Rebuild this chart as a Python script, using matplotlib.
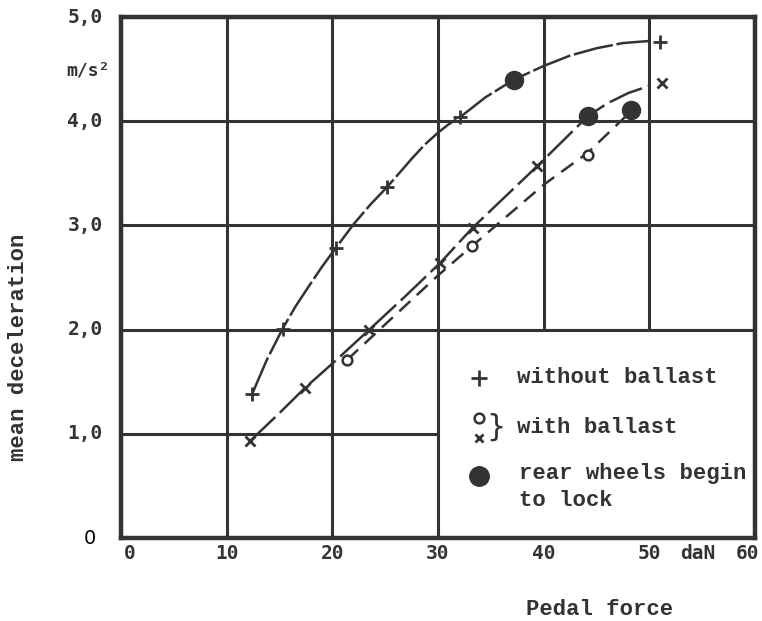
import matplotlib.pyplot as plt
from matplotlib.patches import Rectangle

INK = '#333333'

# measured points
plus_x = [12.4, 15.3, 20.3, 25.2, 32.1, 51.0]
plus_y = [1.38, 2.01, 2.78, 3.37, 4.04, 4.76]
cross_x = [12.2, 17.4, 23.5, 30.2, 33.3, 39.4, 51.2]
cross_y = [0.93, 1.44, 2.00, 2.64, 2.98, 3.57, 4.37]
circ_x = [21.4, 33.2, 44.2]
circ_y = [1.71, 2.80, 3.68]
lock_x = [37.2, 44.2, 48.3]
lock_y = [4.40, 4.05, 4.11]

# drawn curves
curve_plus_x = [12.4, 13.8, 15.3, 16.5, 17.8, 19.0, 20.3, 22.0, 23.6, 25.2, 26.4, 27.6, 28.8, 30.0,
                31.0, 32.1, 34.5, 37.2, 40.0, 42.5, 45.0, 47.5, 50.0]
curve_plus_y = [1.38, 1.71, 2.01, 2.22, 2.42, 2.60, 2.78, 3.01, 3.20, 3.37, 3.51, 3.65, 3.78, 3.89,
                3.97, 4.04, 4.23, 4.40, 4.53, 4.63, 4.70, 4.75, 4.77]
curve_cross_x = [12.2, 14.8, 17.4, 20.4, 23.5, 26.8, 30.2, 33.3, 36.4, 39.4, 42.0, 44.2, 46.0, 48.0, 50.0]
curve_cross_y = [0.93, 1.18, 1.44, 1.71, 2.00, 2.31, 2.64, 2.98, 3.28, 3.57, 3.83, 4.05, 4.17, 4.27, 4.34]
curve_circ_x = [21.4, 25.0, 30.0, 33.2, 37.0, 40.0, 44.2, 47.8]
curve_circ_y = [1.71, 2.05, 2.52, 2.80, 3.13, 3.39, 3.70, 4.05]

xtick_pos = [0.8, 10, 20, 30, 40, 50, 54.6, 59.3]
xtick_lab = ['0', '10', '20', '30', '40', '50', 'daN', '60']
ytick_pos = [5.0, 4.0, 3.0, 2.0, 1.0]
ytick_lab = ['5,0', '4,0', '3,0', '2,0', '1,0']

fig = plt.figure(figsize=(7.62, 6.21), dpi=100)
ax = fig.add_axes([0.1588, 0.1336, 0.8320, 0.8390])
ax.set_xlim(0, 60)
ax.set_ylim(0, 5)
ax.set_xticks(range(0, 61, 10))
ax.set_yticks(range(0, 6))
ax.tick_params(length=0, labelbottom=False, labelleft=False)
ax.set_axisbelow(True)
ax.grid(True, color=INK, lw=2.2)
for s in ax.spines.values():
    s.set_color(INK)
    s.set_linewidth(3.2)

# legend panel, blanks out the grid lines in the lower right
ax.add_patch(Rectangle((30, 0), 30, 2, facecolor='white', edgecolor=INK, lw=2.2, zorder=1))

ax.plot(curve_plus_x, curve_plus_y, color=INK, lw=1.8, dashes=(16, 1.5), zorder=2)
ax.plot(curve_cross_x, curve_cross_y, color=INK, lw=1.8, dashes=(14, 2.5), zorder=2)
ax.plot(curve_circ_x, curve_circ_y, color=INK, lw=1.8, dashes=(6, 3.5), zorder=2)

ax.plot(plus_x, plus_y, ls='none', marker='+', ms=10, mew=2, color=INK, zorder=3)
ax.plot(cross_x, cross_y, ls='none', marker='x', ms=7, mew=2, color=INK, zorder=3)
ax.plot(circ_x, circ_y, ls='none', marker='o', ms=7, mew=1.8, mfc='white', mec=INK, zorder=3)
ax.plot(lock_x, lock_y, ls='none', marker='o', ms=13, color=INK, zorder=3)

tick_font = dict(family='DejaVu Sans Mono', fontsize=14, color=INK, fontweight='bold')
for p, t in zip(xtick_pos, xtick_lab):
    ax.text(p, -0.15, t, ha='center', va='center', clip_on=False, **tick_font)
for p, t in zip(ytick_pos, ytick_lab):
    ax.text(-3.4, p, t, ha='center', va='center', clip_on=False, **tick_font)
ax.text(-3.1, 4.49, 'm/s²', ha='center', va='center', clip_on=False,
        family='DejaVu Sans Mono', fontsize=13, color=INK, fontweight='bold')
ax.text(-2.9, 0.0, '0', ha='center', va='center', clip_on=False,
        family='DejaVu Sans', fontsize=14, color='black')

lab_font = dict(family='Liberation Mono', fontsize=16, color=INK, fontweight='bold')
ax.text(-9.7, 1.83, 'mean deceleration', rotation=90, ha='center', va='center', clip_on=False, **lab_font)
ax.text(45.3, -0.69, 'Pedal force', ha='center', va='center', clip_on=False, **lab_font)

# legend contents
ax.plot([33.9], [1.54], marker='+', ms=11, mew=2, color=INK, zorder=3)
ax.plot([33.9], [1.15], marker='o', ms=7, mew=1.8, mfc='white', mec=INK, zorder=3)
ax.plot([33.9], [0.96], marker='x', ms=6, mew=2, color=INK, zorder=3)
ax.plot([33.9], [0.60], marker='o', ms=14, color=INK, zorder=3)
ax.text(35.5, 1.06, '}', ha='center', va='center', family='DejaVu Sans', fontsize=22, color=INK)
ax.text(37.5, 1.54, 'without ballast', ha='left', va='center', **lab_font)
ax.text(37.5, 1.06, 'with ballast', ha='left', va='center', **lab_font)
ax.text(37.7, 0.62, 'rear wheels begin', ha='left', va='center', **lab_font)
ax.text(37.7, 0.36, 'to lock', ha='left', va='center', **lab_font)

fig.savefig('out.png', dpi=100, facecolor='white')
